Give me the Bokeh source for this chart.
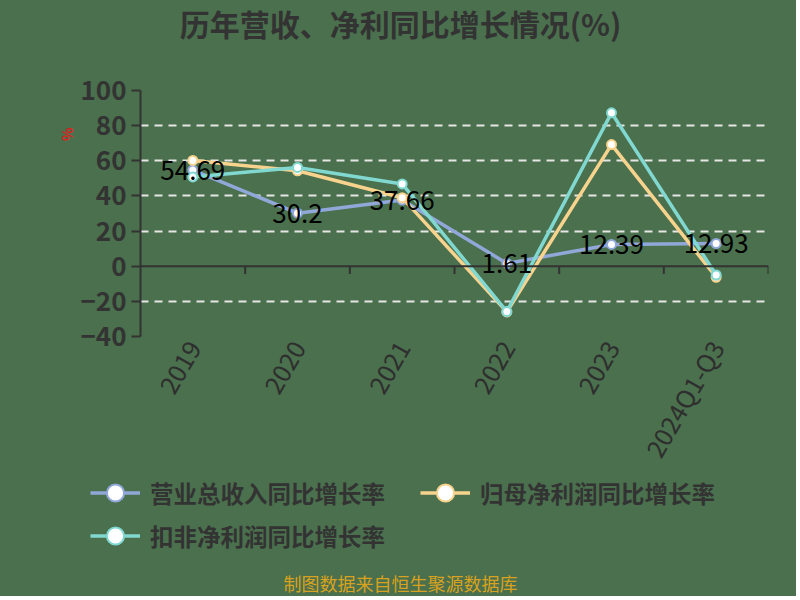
import math
from bokeh.plotting import figure
from bokeh.models import (ColumnDataSource, FixedTicker, Legend, LegendItem, Title,
                          Span, Label, LabelSet)
from bokeh.embed import file_html
from bokeh.resources import INLINE
from bokeh.core.properties import value

categories = ["2019", "2020", "2021", "2022", "2023", "2024Q1-Q3"]
revenue_growth = [54.69, 30.2, 37.66, 1.61, 12.39, 12.93]
netprofit_growth = [60.2, 54.3, 39.0, -26.0, 69.2, -6.3]
deducted_growth = [50.8, 56.2, 46.8, -25.8, 87.3, -5.0]
series_names = ["营业总收入同比增长率", "归母净利润同比增长率", "扣非净利润同比增长率"]
y_ticks = [100, 80, 60, 40, 20, 0, -20, -40]
title_text = "历年营收、净利同比增长情况(%)"
source_text = "制图数据来自恒生聚源数据库"
unit_text = "%"

BG = "#4a704d"
colors = ["#91a7d8", "#f8d38e", "#80d8d0"]
CJK = "Noto Sans CJK SC"
W = 796


xs = [i + 0.5 for i in range(len(categories))]


def blank(h, y0=0):
    f = figure(width=W, height=h, output_backend="svg", toolbar_location=None,
               x_range=(0, W), y_range=(y0, y0 + h), x_axis_type=None, y_axis_type=None,
               background_fill_color=BG, border_fill_color=BG,
               min_border=0, min_border_left=0, min_border_right=0,
               min_border_top=0, min_border_bottom=0)
    f.outline_line_color = None
    f.styles = {"background-color": BG}
    return f


# ---- title strip
ft = blank(56)
ft.add_layout(Label(x=400, y=34, text=title_text, text_font=CJK, text_font_size="30px",
                    text_font_style="bold", text_color="#333333", text_align="center",
                    text_baseline="middle"))

# ---- main chart
p = figure(width=W, height=419, output_backend="svg", toolbar_location=None,
           x_range=(0, len(categories)), y_range=(-40, 100),
           background_fill_color=BG, border_fill_color=BG,
           min_border_left=140, min_border_right=28, min_border_top=34, min_border_bottom=139)
p.outline_line_color = None
p.styles = {"background-color": BG}

p.yaxis.ticker = FixedTicker(ticks=y_ticks)
p.yaxis.axis_line_color = "#333333"
p.yaxis.axis_line_width = 2
p.yaxis.major_tick_line_color = "#333333"
p.yaxis.major_tick_line_width = 2
p.yaxis.major_tick_out = 9
p.yaxis.major_tick_in = 0
p.yaxis.minor_tick_line_color = None
p.yaxis.major_label_standoff = 5
p.yaxis.major_label_text_font = CJK
p.yaxis.major_label_text_font_size = "26px"
p.yaxis.major_label_text_font_style = "bold"
p.yaxis.major_label_text_color = "#333333"

# unit marker on the left, near the top of the value axis
p.add_layout(Title(text=unit_text, text_color="#e02020", text_font_size="14px", text_font=CJK,
                   text_font_style="bold", align="right", offset=37, standoff=2), "left")

p.xaxis.ticker = FixedTicker(ticks=xs)
p.xaxis.major_label_overrides = {x: c for x, c in zip(xs, categories)}
p.xaxis.axis_line_color = None
p.xaxis.major_tick_line_color = None
p.xaxis.major_tick_out = 0
p.xaxis.major_tick_in = 0
p.xaxis.minor_tick_line_color = None
p.xaxis.major_label_orientation = math.pi / 3
p.xaxis.major_label_standoff = 6
p.xaxis.major_label_text_font = CJK
p.xaxis.major_label_text_font_size = "25px"
p.xaxis.major_label_text_color = "#2e2e2e"

p.xgrid.grid_line_color = None
p.ygrid.ticker = FixedTicker(ticks=[t for t in y_ticks if t != 0])
p.ygrid.grid_line_color = "#e6e6e6"
p.ygrid.grid_line_width = 2
p.ygrid.grid_line_dash = "8 6"

p.add_layout(Span(location=0, dimension="width", line_color="#333333", line_width=2))
bounds = list(range(1, len(categories) + 1))
tick_src = ColumnDataSource(dict(x=bounds, y0=[0] * len(bounds)))
p.segment(x0="x", x1="x", y0="y0", y1=-4.5, source=tick_src, line_color="#333333", line_width=2)

series = [revenue_growth, netprofit_growth, deducted_growth]
sources = []
for vals, col in zip(series, colors):
    src = ColumnDataSource(dict(x=xs, y=vals))
    sources.append(src)
    p.line("x", "y", source=src, line_color=col, line_width=3.5)
    p.scatter("x", "y", source=src, size=9, fill_color="white", line_color=col, line_width=2)

lab_src = ColumnDataSource(dict(x=xs, y=revenue_growth, t=[str(v) for v in revenue_growth]))
p.add_layout(LabelSet(x="x", y="y", text="t", source=lab_src, text_align="center",
                      text_baseline="middle", text_font=value(CJK), text_font_size="26px",
                      text_color="#000000"))

# ---- legend + source strip
fl = blank(121, y0=1000)
items = []
for name, src, col in zip(series_names, sources, colors):
    # legend sample renderers: same data, outside this strip's visible range
    l = fl.line("x", "y", source=src, line_color=col, line_width=3.5)
    s = fl.scatter("x", "y", source=src, size=9, fill_color="white", line_color=col, line_width=2)
    items.append(LegendItem(label=name, renderers=[l, s]))
items = [items[0], items[2], items[1]]
legend = Legend(items=items, ncols=2, location=(90, 39),
                label_text_font=CJK, label_text_font_size="23.5px", label_text_font_style="bold",
                label_text_color="#333333", background_fill_alpha=0, border_line_color=None,
                glyph_width=50, glyph_height=43, label_height=43, label_width=270,
                label_standoff=10, spacing=0, padding=0, margin=0)
fl.add_layout(legend, "center")
fl.add_layout(Label(x=400, y=1014, text=source_text, text_font=CJK, text_font_size="18px",
                    text_color="#d9a21e", text_align="center", text_baseline="middle"))

html = file_html([ft, p, fl], INLINE)
html = html.replace("<body>", '<body style="background-color: %s;">' % BG, 1)
open("out.html", "w").write(html)
